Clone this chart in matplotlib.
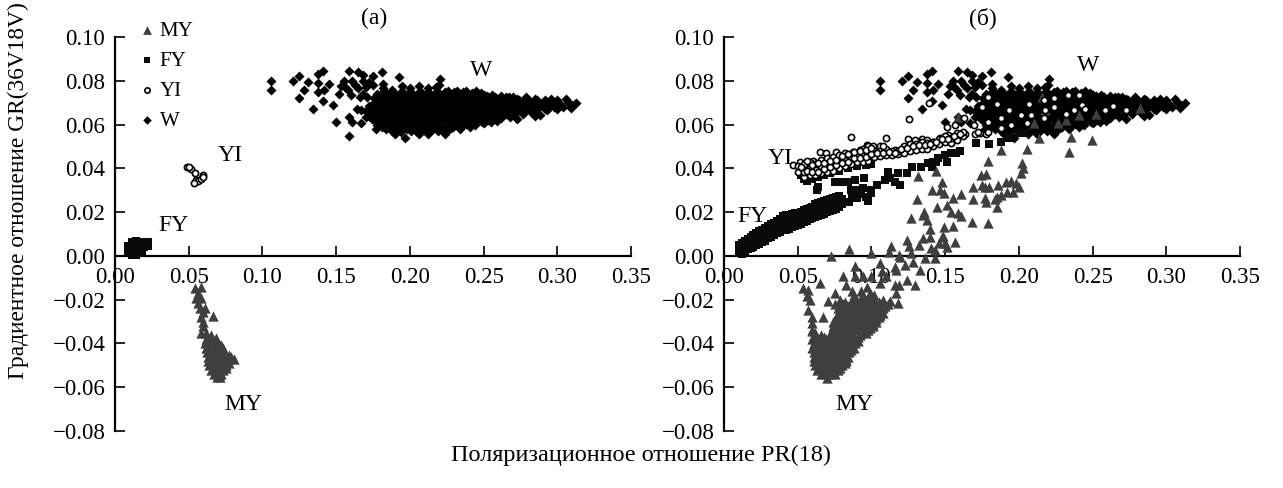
import matplotlib
matplotlib.use('Agg')
import matplotlib.pyplot as plt

plt.rcParams['font.family'] = ['Liberation Serif', 'DejaVu Serif']

x_ticks = [0.00, 0.05, 0.10, 0.15, 0.20, 0.25, 0.30, 0.35]
x_labels = ['0.00', '0.05', '0.10', '0.15', '0.20', '0.25', '0.30', '0.35']
y_ticks = [-0.08, -0.06, -0.04, -0.02, 0.00, 0.02, 0.04, 0.06, 0.08, 0.10]
y_labels = ['\u22120.08', '\u22120.06', '\u22120.04', '\u22120.02', '0.00', '0.02', '0.04', '0.06', '0.08', '0.10']

# W is the same in both panels
w_pts = [
    # scattered points on the left and top
    (.106,.080),(.106,.076),(.121,.080),(.125,.082),(.131,.0795),(.128,.0757),(.125,.072),(.134,.067),
    (.138,.083),(.141,.0845),(.138,.079),(.145,.0787),(.142,.0757),(.138,.075),(.141,.0707),(.148,.069),
    (.150,.0613),(.159,.0845),(.159,.0635),(.161,.061),(.159,.055),(.155,.080),(.153,.0775),(.152,.074),
    (.161,.080),(.165,.084),(.168,.0825),(.175,.082),(.181,.084),(.160,.0735),(.166,.0727),(.164,.0673),
    (.167,.0605),(.177,.058),(.1925,.0815),(.2205,.081),(.22,.078),(.245,.0754),(.170,.077),(.175,.078),
    (.182,.0787),(.168,.080),(.172,.0795),(.156,.077),(.158,.076),(.165,.0765),(.168,.074),(.171,.0725),(.167,.0665),(.170,.0635),(.163,.078),
    # main cluster
    (.190,.0555),(.197,.054),(.206,.0558),(.212,.0555),(.224,.0556),
    (.188,.057),(.194,.0565),(.201,.057),(.207,.0565),(.213,.057),(.219,.057),(.225,.0572),
    (.184,.058),(.192,.0575),(.198,.058),(.204,.0572),(.210,.058),(.216,.0578),(.222,.058),(.228,.0582),(.234,.058),
    (.181,.059),(.187,.059),(.193,.059),(.199,.059),(.205,.059),(.211,.059),(.217,.059),(.223,.059),(.229,.059),(.235,.059),(.241,.059),
    (.178,.060),(.185,.0602),(.190,.060),(.196,.0605),(.202,.060),(.208,.0598),(.214,.0603),(.220,.060),(.226,.0605),(.232,.060),(.238,.0603),(.244,.060),(.250,.0605),
    (.177,.061),(.183,.061),(.189,.061),(.195,.061),(.201,.061),(.207,.061),(.213,.061),(.219,.061),(.225,.061),(.231,.061),(.237,.061),(.243,.061),(.249,.061),(.255,.061),
    (.174,.0625),(.180,.062),(.187,.0622),(.193,.062),(.199,.0625),(.205,.062),(.211,.0622),(.217,.062),(.223,.0625),(.229,.062),(.235,.0622),(.241,.062),(.247,.0625),(.253,.062),(.259,.0615),
    (.174,.063),(.183,.063),(.190,.063),(.196,.063),(.202,.063),(.208,.063),(.214,.063),(.220,.063),(.226,.063),(.232,.063),(.238,.063),(.244,.063),(.250,.063),(.256,.063),(.262,.063),
    (.172,.064),(.177,.0642),(.184,.064),(.190,.0645),(.196,.064),(.202,.0642),(.208,.064),(.214,.0645),(.220,.064),(.226,.0642),(.232,.064),(.238,.0645),(.244,.064),(.250,.0642),(.256,.064),(.262,.0645),(.268,.0635),(.273,.0625),
    (.172,.065),(.181,.065),(.187,.065),(.193,.065),(.199,.065),(.205,.065),(.211,.065),(.217,.065),(.223,.065),(.229,.065),(.235,.065),(.241,.065),(.247,.065),(.253,.065),(.259,.065),(.265,.065),(.271,.065),(.277,.065),(.285,.064),
    (.170,.066),(.175,.0665),(.181,.066),(.187,.0662),(.193,.066),(.199,.0665),(.205,.066),(.211,.0662),(.217,.066),(.223,.0665),(.229,.066),(.235,.0662),(.241,.066),(.247,.0665),(.253,.066),(.259,.0662),(.265,.066),(.271,.0665),(.277,.066),(.283,.0655),(.288,.0645),(.293,.0665),
    (.172,.067),(.178,.067),(.184,.067),(.190,.067),(.196,.067),(.202,.067),(.208,.067),(.214,.067),(.220,.067),(.226,.067),(.232,.067),(.238,.067),(.244,.067),(.250,.067),(.256,.067),(.262,.067),(.268,.067),(.274,.067),(.280,.067),(.286,.067),(.292,.067),(.300,.067),
    (.172,.0685),(.178,.068),(.184,.0682),(.190,.068),(.196,.0685),(.202,.068),(.208,.0682),(.214,.068),(.220,.0685),(.226,.068),(.232,.0682),(.238,.068),(.244,.0685),(.250,.068),(.256,.0682),(.262,.068),(.268,.0685),(.274,.068),(.280,.0682),(.286,.068),(.292,.0685),(.298,.068),(.304,.0682),(.309,.0675),
    (.175,.069),(.181,.069),(.187,.069),(.193,.069),(.199,.069),(.205,.069),(.211,.069),(.217,.069),(.223,.069),(.229,.069),(.235,.069),(.241,.069),(.247,.069),(.253,.069),(.259,.069),(.265,.069),(.271,.069),(.277,.069),(.283,.069),(.289,.069),(.295,.069),(.301,.069),(.310,.069),
    (.176,.070),(.181,.0705),(.187,.070),(.193,.0702),(.199,.070),(.205,.0705),(.211,.070),(.217,.0702),(.223,.070),(.229,.0705),(.235,.070),(.241,.0702),(.247,.070),(.253,.0695),(.259,.0702),(.265,.070),(.271,.0705),(.277,.0698),(.283,.0702),(.289,.0695),(.295,.0705),(.301,.070),(.307,.0702),(.313,.070),
    (.178,.071),(.184,.071),(.190,.071),(.196,.071),(.202,.071),(.208,.071),(.214,.071),(.220,.071),(.226,.071),(.232,.071),(.238,.071),(.244,.071),(.250,.071),(.256,.071),(.262,.071),(.268,.071),(.274,.071),(.280,.071),(.286,.071),(.292,.071),(.300,.071),
    (.176,.072),(.183,.0722),(.189,.072),(.195,.0725),(.201,.072),(.207,.0722),(.213,.072),(.219,.0725),(.225,.072),(.231,.0722),(.237,.072),(.243,.0722),(.249,.072),(.255,.0715),(.261,.072),(.267,.0725),(.273,.0718),(.279,.0725),(.285,.0715),(.296,.0718),(.306,.0715),
    (.180,.073),(.186,.073),(.192,.073),(.198,.073),(.204,.073),(.210,.073),(.216,.073),(.222,.073),(.228,.073),(.234,.073),(.240,.073),(.246,.073),(.252,.073),(.258,.0725),(.265,.0725),(.270,.0725),
    (.178,.074),(.184,.0742),(.190,.074),(.196,.0745),(.202,.074),(.208,.0742),(.214,.074),(.220,.0745),(.226,.074),(.232,.0745),(.238,.074),(.244,.0735),(.250,.0735),(.256,.0735),(.262,.073),
    (.182,.075),(.188,.075),(.194,.075),(.200,.075),(.206,.075),(.212,.075),(.218,.075),(.224,.075),(.230,.075),(.236,.075),(.242,.0745),(.248,.0745),
    (.182,.0765),(.188,.076),(.195,.0778),(.200,.0765),(.206,.0775),(.212,.0765),(.218,.077),(.226,.0755),(.232,.0755),(.238,.0755),
]

a_fy_pts = [
    (.009,.002),(.009,.0045),(.0115,.0005),(.0115,.0065),(.013,.002),(.013,.0045),(.0145,.0005),(.0145,.0068),
    (.016,.0025),(.016,.005),(.018,.0015),(.018,.0065),(.020,.004),(.020,.006),(.0225,.0045),(.0225,.0062),(.0115,.003),(.0145,.003),(.018,.004),
]
a_yi_pts = [(.049,.0405),(.0515,.0395),(.054,.0377),(.0595,.0369),(.055,.0347),(.056,.034),(.058,.035),(.060,.036),(.0535,.0335),(.0505,.0405)]
a_my_pts = [
    (.054,-.0147),(.0585,-.014),(.055,-.0193),(.0585,-.0193),(.0574,-.0239),(.061,-.0239),(.0585,-.0277),(.0664,-.0274),
    (.0597,-.0322),(.0585,-.0353),(.062,-.0353),(.0653,-.036),(.0687,-.0375),(.072,-.0406),(.061,-.040),
    (.062,-.038),(.066,-.038),(.069,-.039),(.062,-.042),(.066,-.040),(.069,-.0415),(.073,-.042),
    (.0625,-.044),(.066,-.0435),(.070,-.044),(.074,-.044),(.077,-.0455),(.063,-.046),(.067,-.046),(.071,-.046),(.075,-.046),(.079,-.046),
    (.063,-.048),(.067,-.048),(.071,-.048),(.075,-.048),(.0805,-.047),(.0635,-.050),(.067,-.050),(.071,-.050),(.075,-.050),
    (.065,-.052),(.069,-.052),(.073,-.052),(.067,-.054),(.070,-.054),(.072,-.054),(.069,-.0555),(.071,-.0555),
    (.0645,-.039),(.0675,-.041),(.064,-.043),(.068,-.043),(.072,-.043),(.065,-.045),(.069,-.045),(.073,-.045),(.065,-.047),(.069,-.047),(.073,-.047),(.077,-.047),
    (.065,-.049),(.069,-.049),(.073,-.049),(.077,-.049),(.067,-.051),(.071,-.051),(.075,-.051),(.069,-.053),(.071,-.053),(.060,-.030),(.0595,-.0255),(.0565,-.0215),(.056,-.017),
]

b_fy_pts = [
    # dense diagonal band
    (.010,.002),(.010,.005),(.012,.001),(.012,.004),(.012,.006),(.016,.003),(.016,.0055),(.016,.0075),
    (.020,.004),(.020,.0065),(.020,.0095),(.024,.0055),(.024,.008),(.024,.0115),(.028,.007),(.028,.0095),(.028,.0128),
    (.032,.0085),(.032,.011),(.032,.0145),(.036,.0105),(.036,.0125),(.036,.016),(.040,.012),(.040,.0145),(.040,.018),
    (.044,.0125),(.044,.015),(.044,.0185),(.048,.0135),(.048,.016),(.048,.0195),(.052,.0145),(.052,.017),(.052,.020),
    (.056,.016),(.056,.019),(.056,.0215),(.060,.0175),(.060,.020),(.060,.0225),(.064,.018),(.064,.0205),(.064,.024),
    (.068,.019),(.068,.0215),(.068,.025),(.072,.0205),(.072,.023),(.072,.026),(.076,.0215),(.076,.0245),(.076,.027),
    (.080,.0235),(.080,.026),
    (.014,.002),(.014,.0045),(.014,.007),(.018,.0035),(.018,.006),(.018,.0085),(.022,.005),(.022,.0075),(.022,.0105),(.026,.0065),(.026,.009),(.026,.012),
    (.030,.008),(.030,.0105),(.030,.0135),(.034,.0095),(.034,.012),(.034,.015),(.038,.011),(.038,.0135),(.038,.017),(.042,.012),(.042,.015),(.042,.0185),
    (.046,.013),(.046,.016),(.046,.019),(.050,.014),(.050,.0165),(.050,.0198),(.054,.0155),(.054,.018),(.054,.021),(.058,.017),(.058,.0195),(.058,.022),
    (.062,.0178),(.062,.0205),(.062,.0235),(.066,.0185),(.066,.021),(.066,.0245),(.070,.020),(.070,.0225),(.070,.0255),(.074,.021),(.074,.024),(.074,.0265),(.078,.0225),(.078,.025),(.078,.0275),
    # sparser part
    (.085,.0245),(.087,.0265),(.09,.0265),(.086,.030),(.093,.0285),(.096,.027),(.098,.025),
    (.0628,.030),(.0635,.0315),(.0753,.0339),(.081,.0339),(.0843,.0339),(.0888,.0347),(.095,.0354),(.090,.030),(.0945,.0309),
    (.1,.030),(.1035,.0324),(.1,.0286),(.1092,.0347),(.1114,.0385),(.1125,.0354),(.118,.0377),(.116,.0339),(.1193,.0324),
    (.124,.0377),(.1272,.0407),(.1333,.0407),(.1385,.0423),(.141,.0407),(.142,.043),(.145,.0445),(.1514,.0427),(.15,.046),
    (.154,.0468),(.16,.048),(.1577,.0468),(.144,.043),(.171,.0514),(.18,.0511),(.188,.052),(.193,.054),(.20,.056),(.205,.056),
    # under the YI band
    (.052,.037),(.054,.035),(.056,.034),(.060,.035),(.064,.036),(.068,.037),(.072,.038),(.078,.039),(.084,.040),(.09,.041),(.096,.0415),(.10,.042),
]
b_yi_pts = [
    (.0515,.043),(.047,.0415),(.055,.0415),(.0606,.0435),(.065,.0476),(.0692,.0471),(.076,.0476),(.0707,.0435),(.082,.0465),(.086,.0544),
    (.0877,.0476),(.092,.0483),(.0967,.0506),(.101,.0502),(.1058,.05),(.11,.054),(.1114,.0468),(.116,.0483),(.1205,.048),(.125,.0532),
    (.1295,.053),(.134,.0532),(.138,.053),(.142,.052),(.1464,.0537),(.152,.0552),(.1577,.0544),(.1634,.0556),(.170,.0556),(.1735,.056),(.178,.0556),
    (.050,.0385),(.050,.041),(.054,.036),(.054,.0385),(.054,.042),(.058,.037),(.058,.040),(.058,.043),(.062,.037),(.062,.0395),(.062,.042),
    (.066,.038),(.066,.041),(.066,.044),(.070,.0385),(.070,.0415),(.070,.0445),(.074,.039),(.074,.042),(.074,.045),(.078,.040),(.078,.043),(.078,.046),
    (.082,.041),(.082,.044),(.082,.047),(.086,.042),(.086,.045),(.090,.043),(.090,.046),(.094,.043),(.094,.046),(.094,.049),(.098,.0435),(.098,.047),(.098,.050),
    (.102,.045),(.102,.048),(.106,.0455),(.106,.048),(.110,.046),(.110,.049),(.114,.046),(.114,.048),(.118,.0465),(.118,.048),(.122,.047),(.122,.050),
    (.126,.048),(.126,.051),(.130,.0485),(.130,.051),(.134,.049),(.134,.052),(.138,.049),(.138,.0515),(.142,.05),(.142,.052),(.146,.051),(.146,.0535),
    (.150,.052),(.150,.055),(.154,.0515),(.154,.054),(.158,.053),(.158,.056),(.162,.055),(.162,.0565),
    (.052,.0405),(.056,.039),(.056,.0435),(.06,.0385),(.06,.0415),(.064,.0385),(.064,.0425),(.068,.0395),(.068,.0425),(.072,.0405),(.072,.0435),(.076,.0415),(.076,.044),(.08,.0425),(.08,.0455),
    (.084,.043),(.084,.0465),(.088,.0445),(.088,.0475),(.092,.0445),(.092,.048),(.096,.045),(.096,.0485),(.1,.0465),(.1,.0495),(.104,.047),(.108,.047),(.108,.05),(.112,.0475),(.116,.047),
    (.12,.049),(.124,.0495),(.128,.05),(.132,.0505),(.136,.0505),(.14,.051),(.144,.052),(.148,.0535),(.152,.0535),(.156,.055),(.16,.0555),
    (.1257,.0625),(.139,.070),(.1515,.059),(.157,.060),(.1626,.0628),(.1696,.0597),(.1724,.0567),(.179,.0567),(.179,.0613),(.1877,.0628),(.1877,.0582),
    (.1946,.0597),(.193,.0666),(.2016,.0643),(.2057,.0605),(.2085,.0643),(.2168,.0628),(.218,.0666),(.2238,.068),(.2238,.072),(.232,.065),(.2335,.0734),
    (.2405,.0734),(.243,.0688),(.2446,.0673),(.2377,.0666),(.2585,.0666),(.264,.0684),(.2724,.0666),(.179,.0727),(.185,.0696),(.175,.068),(.207,.0696),(.217,.0711),
]
b_my_pts = [
    # above zero
    (.0725,0),(.0848,.0032),(.0994,.0015),(.113,.0047),(.112,.0017),(.119,.0005),(.124,.0073),(.1257,.0047),(.1266,.0015),(.1324,.005),(.1347,.008),
    (.1397,.0088),(.1403,.0035),(.136,-.001),(.143,.0027),(.143,-.001),(.146,.0058),(.1487,.0091),(.149,.0134),(.155,.0138),(.1566,.0062),(.151,.004),
    (.1476,.0088),(.15,.0058),(.140,.0123),(.138,.0164),(.1356,.0199),(.1347,.0187),(.1268,.0175),(.131,.0258),(.1318,.0365),(.144,.0388),(.148,.0339),
    (.1408,.0301),(.1464,.0301),(.149,.0286),(.1444,.0222),(.1514,.0233),(.1537,.0202),(.159,.0195),(.1605,.0182),(.1555,.0263),(.1605,.0281),(.168,.0157),
    (.1788,.0152),(.169,.026),(.1686,.0316),(.1742,.0369),(.178,.0374),(.1788,.0435),(.1747,.0324),(.177,.0316),(.180,.0316),(.177,.0263),(.178,.0248),
    (.185,.0222),(.1837,.026),(.186,.0324),(.1854,.027),(.1877,.0278),(.191,.0339),(.1946,.0342),(.198,.0331),(.192,.0293),(.196,.029),(.200,.0316),
    (.2016,.038),(.202,.0423),(.203,.040),(.2057,.0488),(.188,.0483),(.234,.0476),(.2357,.0544),(.2496,.0529),(.214,.054),
    # hidden among W
    (.2154,.0727),(.282,.0676),(.252,.0646),(.2405,.0643),(.2266,.0605),(.21,.0605),(.1585,.0635),(.218,.0666),(.232,.062),
    # sparse below zero
    (.0538,-.0147),(.057,-.0155),(.0651,-.0122),(.056,-.0185),(.0583,-.02),(.057,-.0246),(.0594,-.0277),(.0669,-.0277),(.0594,-.0307),(.0594,-.0345),
    (.0753,-.017),(.0707,-.0208),(.0805,-.009),(.0888,-.0046),(.083,-.0132),(.0888,-.0094),(.0945,-.0094),(.0967,-.014),(.100,-.0094),(.1058,-.0033),
    (.107,-.0071),(.1058,-.0125),(.110,-.0094),(.117,-.0064),(.1193,-.0003),(.116,-.0049),(.1227,-.0041),(.128,-.0026),(.133,-.0064),(.1295,-.0132),
    (.124,-.011),(.119,-.0132),(.116,-.0132),(.1166,-.017),(.118,-.0216),(.1125,-.0208),(.108,-.02),(.102,-.0178),(.099,-.017),
    # dense cone
    (.0696,-.0558),(.066,-.054),(.069,-.054),(.072,-.054),(.075,-.054),(.063,-.052),(.067,-.052),(.070,-.052),(.073,-.052),(.077,-.052),
    (.062,-.050),(.065,-.050),(.069,-.050),(.073,-.050),(.077,-.050),(.080,-.050),(.061,-.048),(.065,-.048),(.069,-.048),(.073,-.048),(.077,-.048),(.081,-.048),(.083,-.048),
    (.061,-.046),(.064,-.046),(.068,-.046),(.072,-.046),(.076,-.046),(.080,-.046),(.084,-.046),(.061,-.044),(.065,-.044),(.069,-.044),(.073,-.044),(.077,-.044),(.081,-.044),(.085,-.044),
    (.060,-.042),(.064,-.042),(.068,-.042),(.072,-.042),(.076,-.042),(.080,-.042),(.084,-.042),(.088,-.042),(.061,-.040),(.065,-.040),(.069,-.040),(.073,-.040),(.077,-.040),(.081,-.040),(.085,-.040),(.089,-.040),
    (.060,-.038),(.064,-.038),(.069,-.038),(.073,-.038),(.077,-.038),(.081,-.038),(.085,-.038),(.090,-.038),(.061,-.036),(.066,-.036),(.072,-.036),(.075,-.036),(.079,-.036),(.083,-.036),(.087,-.036),(.092,-.036),
    (.060,-.034),(.073,-.034),(.077,-.034),(.081,-.034),(.085,-.034),(.090,-.034),(.094,-.034),(.098,-.034),(.074,-.032),(.078,-.032),(.083,-.032),(.087,-.032),(.092,-.032),(.097,-.032),(.101,-.032),
    (.074,-.030),(.079,-.030),(.085,-.030),(.089,-.030),(.094,-.030),(.099,-.030),(.103,-.030),(.076,-.028),(.082,-.028),(.087,-.028),(.091,-.028),(.097,-.028),(.102,-.028),(.105,-.028),
    (.078,-.026),(.084,-.026),(.089,-.026),(.094,-.026),(.099,-.026),(.104,-.026),(.108,-.026),(.077,-.024),(.082,-.024),(.087,-.024),(.092,-.024),(.096,-.024),(.103,-.024),(.108,-.024),
    (.075,-.022),(.081,-.022),(.086,-.022),(.090,-.022),(.097,-.022),(.101,-.022),(.106,-.022),(.111,-.022),(.079,-.020),(.087,-.020),(.092,-.020),(.097,-.020),(.102,-.020),(.088,-.018),(.094,-.018),(.100,-.018),(.087,-.016),(.093,-.016),
    (.067,-.053),(.071,-.053),(.074,-.053),(.064,-.051),(.068,-.051),(.072,-.051),(.075,-.051),(.079,-.051),(.063,-.049),(.067,-.049),(.071,-.049),(.075,-.049),(.079,-.049),(.082,-.049),
    (.063,-.047),(.067,-.047),(.071,-.047),(.075,-.047),(.079,-.047),(.083,-.047),(.063,-.045),(.067,-.045),(.071,-.045),(.075,-.045),(.079,-.045),(.083,-.045),
    (.062,-.043),(.066,-.043),(.070,-.043),(.074,-.043),(.078,-.043),(.082,-.043),(.086,-.043),(.063,-.041),(.067,-.041),(.071,-.041),(.075,-.041),(.079,-.041),(.083,-.041),(.087,-.041),
    (.062,-.039),(.067,-.039),(.071,-.039),(.075,-.039),(.079,-.039),(.083,-.039),(.087,-.039),(.091,-.039),(.063,-.037),(.068,-.037),(.071,-.037),(.075,-.037),(.079,-.037),(.083,-.037),(.087,-.037),(.091,-.037),
    (.062,-.035),(.075,-.035),(.079,-.035),(.083,-.035),(.087,-.035),(.092,-.035),(.096,-.035),(.075,-.033),(.080,-.033),(.085,-.033),(.089,-.033),(.094,-.033),(.099,-.033),
    (.076,-.031),(.081,-.031),(.087,-.031),(.091,-.031),(.096,-.031),(.101,-.031),(.078,-.029),(.084,-.029),(.089,-.029),(.094,-.029),(.099,-.029),(.103,-.029),
    (.080,-.027),(.086,-.027),(.091,-.027),(.096,-.027),(.101,-.027),(.106,-.027),(.080,-.025),(.086,-.025),(.091,-.025),(.096,-.025),(.101,-.025),(.106,-.025),
    (.079,-.023),(.084,-.023),(.089,-.023),(.094,-.023),(.099,-.023),(.105,-.023),(.109,-.023),(.082,-.021),(.089,-.021),(.095,-.021),(.1,-.021),(.105,-.021),
]

MY_C = '#3f3f3f'
FY_C = '#0a0a0a'


def xy(pts):
    return [p[0] for p in pts], [p[1] for p in pts]


def panel(ax, my, fy, yi):
    ax.scatter(*xy(w_pts), marker='D', s=26, color='black', linewidths=0, zorder=2, clip_on=False, label='W')
    ax.scatter(*xy(fy), marker='s', s=30, color=FY_C, linewidths=0, zorder=3, clip_on=False, label='FY')
    ax.scatter(*xy(my), marker='^', s=55, color=MY_C, linewidths=0, zorder=3, clip_on=False, label='MY')
    ax.scatter(*xy(yi), marker='o', s=20, facecolor='white', edgecolor='black', linewidths=1.2, zorder=4, clip_on=False, label='YI')
    ax.set_xlim(0, 0.35)
    ax.set_ylim(-0.08, 0.10)
    ax.spines['top'].set_visible(False)
    ax.spines['right'].set_visible(False)
    ax.spines['bottom'].set_position(('data', 0))
    ax.spines['left'].set_linewidth(1.6)
    ax.spines['bottom'].set_linewidth(1.6)
    ax.set_xticks(x_ticks, x_labels)
    ax.set_yticks(y_ticks, y_labels)
    ax.tick_params(axis='both', direction='in', length=7, width=1.2, labelsize=16.5)
    ax.tick_params(axis='x', pad=8)
    ax.tick_params(axis='y', pad=7)
    for lab in ax.get_xticklabels() + ax.get_yticklabels():
        lab.set_zorder(1)


fig = plt.figure(figsize=(12.83, 4.88), dpi=100)
W, H = 1283, 488
ax1 = fig.add_axes([115 / W, 1 - 431 / H, 516 / W, 394 / H])
ax2 = fig.add_axes([724 / W, 1 - 431 / H, 516 / W, 394 / H])
panel(ax1, a_my_pts, a_fy_pts, a_yi_pts)
panel(ax2, b_my_pts, b_fy_pts, b_yi_pts)

handles, labels = ax1.get_legend_handles_labels()
order = [labels.index(n) for n in ['MY', 'FY', 'YI', 'W']]
ax1.legend([handles[i] for i in order], [labels[i] for i in order], loc='upper left',
           bbox_to_anchor=(0.03, 1.04), frameon=False, fontsize=15, labelspacing=0.5,
           handletextpad=-0.2, handlelength=1.6, borderpad=0, borderaxespad=0, markerscale=0.85)

for ax, t, notes in [
    (ax1, '(a)', [('W', .248, .0849), ('YI', .078, .0457), ('FY', .0394, .0141), ('MY', .0868, -.068)]),
    (ax2, '(б)', [('W', .247, .0868), ('YI', .038, .0447), ('FY', .019, .0178), ('MY', .0882, -.068)]),
]:
    ax.text(.1757, .1085, t, ha='center', va='center', fontsize=17)
    for s, x, y in notes:
        ax.text(x, y, s, ha='center', va='center', fontsize=17, zorder=5)

fig.text(641 / W, 1 - 455 / H, 'Поляризационное отношение PR(18)', ha='center', va='center', fontsize=17.5)
fig.text(18 / W, 1 - 191 / H, 'Градиентное отношение GR(36V18V)', ha='center', va='center', rotation=90, fontsize=16.8)

fig.savefig('out.png', dpi=100)
